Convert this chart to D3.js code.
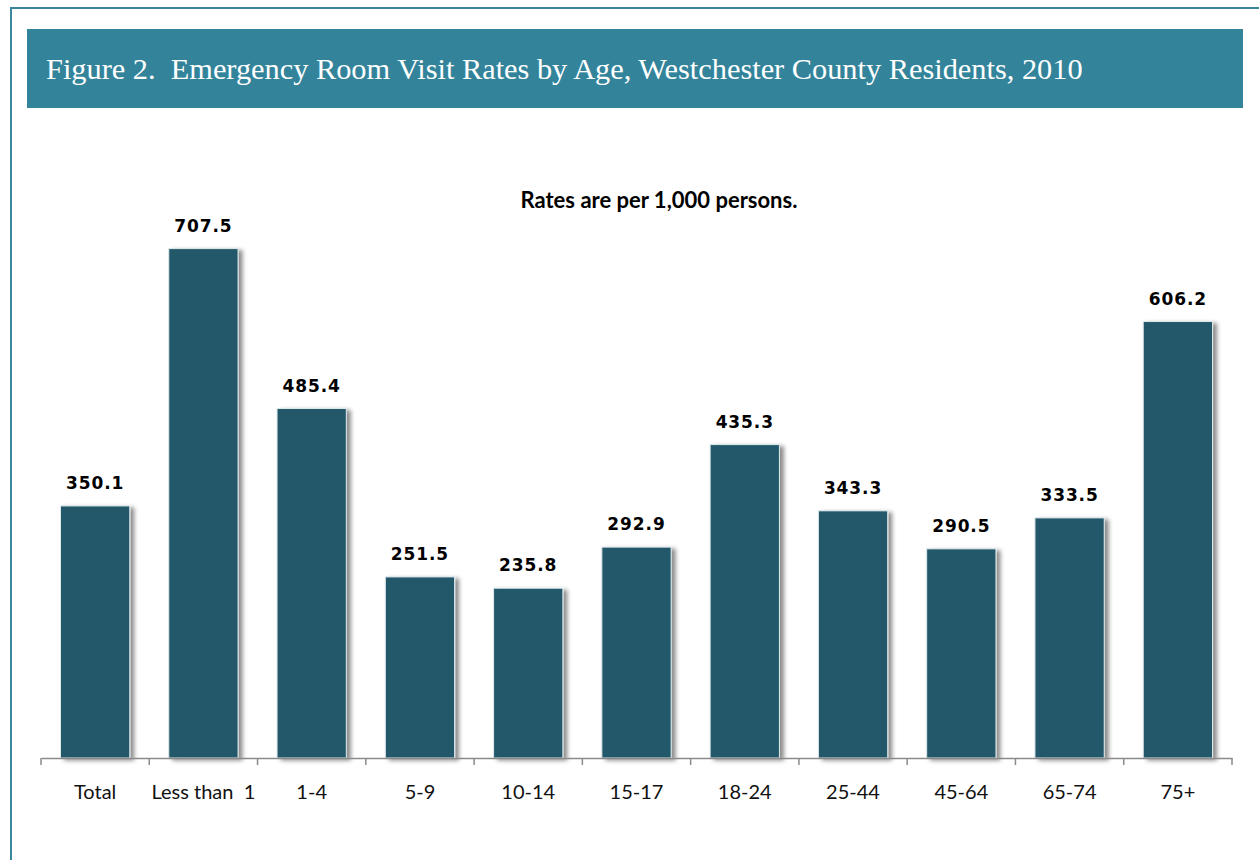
<!DOCTYPE html>
<html>
<meta charset="utf-8">
<style>
  body { margin: 0; background: #fff; }
  svg { display: block; }
</style>
<body>
</body>
<script src="https://cdn.jsdelivr.net/npm/d3@7"></script>
<script>

var categories = ["Total", "Less than  1", "1-4", "5-9", "10-14", "15-17", "18-24", "25-44", "45-64", "65-74", "75+"];
var rates = [350.1, 707.5, 485.4, 251.5, 235.8, 292.9, 435.3, 343.3, 290.5, 333.5, 606.2];
var titleText = "Figure 2.  Emergency Room Visit Rates by Age, Westchester County Residents, 2010";
var subtitleText = "Rates are per 1,000 persons.";

var width = 1259,
    height = 860;

var svg = d3.select("body").append("svg")
    .attr("width", width)
    .attr("height", height);

var defs = svg.append("defs");
var shadow = defs.append("filter")
    .attr("id", "barShadow")
    .attr("x", "-10%").attr("y", "-10%")
    .attr("width", "130%").attr("height", "120%");
shadow.append("feDropShadow")
    .attr("dx", 4).attr("dy", 2)
    .attr("stdDeviation", 2)
    .attr("flood-color", "#000")
    .attr("flood-opacity", 0.45);

// outer frame, runs off the right and bottom edges
svg.append("rect")
    .attr("x", 11).attr("y", 8)
    .attr("width", width + 20).attr("height", height + 20)
    .attr("fill", "none")
    .attr("stroke", "#3a879c")
    .attr("stroke-width", 2);

// title banner
svg.append("rect")
    .attr("x", 27).attr("y", 29)
    .attr("width", 1216).attr("height", 79)
    .attr("fill", "#33849b");

var title = svg.append("text")
    .attr("x", 46).attr("y", 79)
    .attr("fill", "#fff")
    .style("white-space", "pre")
    .style("font-family", "'Liberation Serif', 'DejaVu Serif', serif")
    .style("font-size", "30px")
    .text(titleText);
// fit the title to the banner text width seen in the picture
var tw = title.node().getComputedTextLength();
title.style("font-size", (30 * 1037 / tw) + "px");

svg.append("text")
    .attr("x", 659).attr("y", 208)
    .attr("text-anchor", "middle")
    .style("font-family", "Lato, 'Open Sans', sans-serif")
    .style("font-weight", "bold")
    .style("font-size", "22px")
    .attr("fill", "#000")
    .text(subtitleText);

var x = d3.scaleBand()
    .domain(categories)
    .range([41, 1232])
    .paddingInner(0.36)
    .paddingOuter(0.18);

var y = d3.scaleLinear()
    .domain([0, 800])
    .range([758, 182]);

var bars = svg.append("g").attr("class", "bars");

bars.selectAll("rect")
    .data(rates)
  .enter().append("rect")
    .attr("x", function (d, i) { return x(categories[i]); })
    .attr("y", function (d) { return y(d); })
    .attr("width", x.bandwidth())
    .attr("height", function (d) { return y(0) - y(d); })
    .attr("fill", "#22596a")
    .attr("stroke", "#dfe9ec")
    .attr("stroke-width", 1)
    .attr("filter", "url(#barShadow)");

bars.selectAll("text")
    .data(rates)
  .enter().append("text")
    .attr("x", function (d, i) { return x(categories[i]) + x.bandwidth() / 2; })
    .attr("y", function (d) { return y(d) - 17; })
    .attr("text-anchor", "middle")
    .style("font-family", "'DejaVu Sans', sans-serif")
    .style("font-weight", "bold")
    .style("font-size", "17px")
    .style("letter-spacing", "0.9px")
    .attr("fill", "#000")
    .text(function (d) { return d.toFixed(1); });

// x axis: line with ticks on the band boundaries
var axis = svg.append("g")
    .attr("transform", "translate(0," + y(0) + ")")
    .call(d3.axisBottom(x).tickSize(0).tickPadding(0));

axis.select(".domain")
    .attr("stroke", "#8a8a8a")
    .attr("stroke-width", 1.5);

axis.selectAll(".tick text")
    .attr("y", 41)
    .attr("dy", 0)
    .attr("fill", "#111")
    .style("font-family", "Lato, 'Open Sans', sans-serif")
    .style("font-size", "20px")
    .style("white-space", "pre");

axis.selectAll(".bound")
    .data(d3.range(categories.length + 1))
  .enter().append("line")
    .attr("class", "bound")
    .attr("x1", function (i) { return x.range()[0] + i * x.step(); })
    .attr("x2", function (i) { return x.range()[0] + i * x.step(); })
    .attr("y1", 0).attr("y2", 7)
    .attr("stroke", "#8a8a8a")
    .attr("stroke-width", 1.5);

</script>
</html>
